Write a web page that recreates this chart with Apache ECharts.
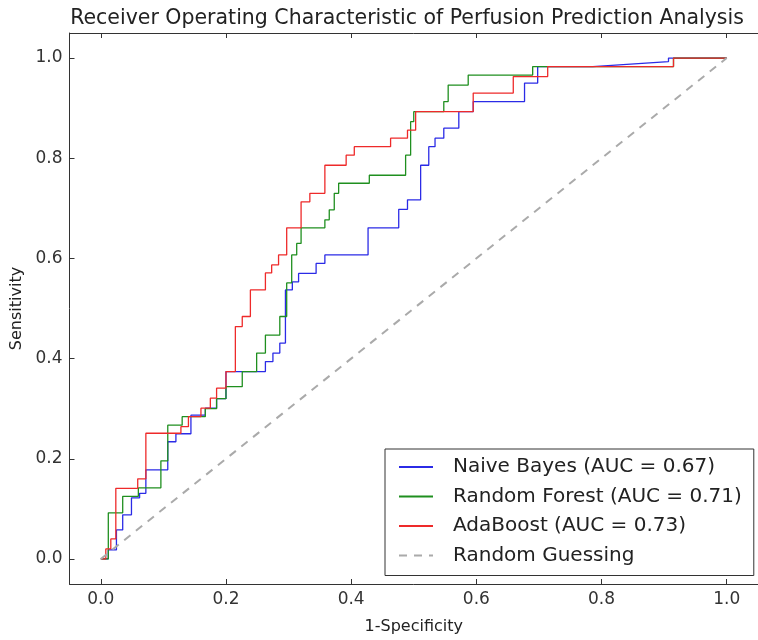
<!DOCTYPE html>
<html>
<head>
<meta charset="utf-8">
<script src="https://cdn.jsdelivr.net/npm/echarts@6/dist/echarts.min.js"></script>
<style>html,body{margin:0;padding:0;background:#fff}#chart{width:758px;height:640px}</style>
</head>
<body>
<div id="chart"></div>
<script>
// ---- data ----
const titleText = "Receiver Operating Characteristic of Perfusion Prediction Analysis";
const xAxisName = "1-Specificity";
const yAxisName = "Sensitivity";
const tickValues = [0.0, 0.2, 0.4, 0.6, 0.8, 1.0];
const seriesNames = ["Naive Bayes (AUC = 0.67)", "Random Forest (AUC = 0.71)", "AdaBoost (AUC = 0.73)", "Random Guessing"];

const nbFpr = [0,0.012,0.012,0.025,0.025,0.035,0.035,0.049,0.049,0.062,0.062,0.072,0.072,0.107,0.107,0.12,0.12,0.144,0.144,0.167,0.167,0.185,0.185,0.2,0.2,0.263,0.263,0.275,0.275,0.286,0.286,0.295,0.295,0.306,0.306,0.316,0.316,0.344,0.344,0.358,0.358,0.427,0.427,0.476,0.476,0.49,0.49,0.511,0.511,0.524,0.524,0.534,0.534,0.548,0.548,0.572,0.572,0.595,0.595,0.677,0.677,0.698,0.698,0.786,0.907,0.907,1.0];
const nbTpr = [0,0,0.018,0.018,0.058,0.058,0.088,0.088,0.122,0.122,0.131,0.131,0.178,0.178,0.234,0.234,0.25,0.25,0.287,0.287,0.301,0.301,0.32,0.32,0.374,0.374,0.394,0.394,0.411,0.411,0.431,0.431,0.537,0.537,0.553,0.553,0.57,0.57,0.59,0.59,0.607,0.607,0.661,0.661,0.698,0.698,0.717,0.717,0.786,0.786,0.823,0.823,0.84,0.84,0.86,0.86,0.893,0.893,0.913,0.913,0.95,0.95,0.983,0.983,0.993,1.0,1.0];

const rfFpr = [0,0.012,0.012,0.035,0.035,0.06,0.06,0.096,0.096,0.107,0.107,0.13,0.13,0.167,0.167,0.185,0.185,0.2,0.2,0.226,0.226,0.249,0.249,0.263,0.263,0.286,0.286,0.297,0.297,0.305,0.305,0.313,0.313,0.32,0.32,0.358,0.358,0.365,0.365,0.373,0.373,0.38,0.38,0.429,0.429,0.487,0.487,0.495,0.495,0.5,0.5,0.548,0.548,0.555,0.555,0.587,0.587,0.69,0.69,0.915,0.915,1.0];
const rfTpr = [0,0,0.092,0.092,0.125,0.125,0.142,0.142,0.196,0.196,0.267,0.267,0.284,0.284,0.30,0.30,0.32,0.32,0.344,0.344,0.374,0.374,0.411,0.411,0.447,0.447,0.484,0.484,0.551,0.551,0.607,0.607,0.63,0.63,0.661,0.661,0.677,0.677,0.697,0.697,0.73,0.73,0.75,0.75,0.766,0.766,0.806,0.806,0.873,0.873,0.893,0.893,0.913,0.913,0.946,0.946,0.966,0.966,0.983,0.983,1.0,1.0];

const abFpr = [0,0.008,0.008,0.016,0.016,0.024,0.024,0.059,0.059,0.072,0.072,0.128,0.128,0.14,0.14,0.16,0.16,0.175,0.175,0.185,0.185,0.2,0.2,0.215,0.215,0.226,0.226,0.239,0.239,0.263,0.263,0.273,0.273,0.284,0.284,0.297,0.297,0.32,0.32,0.334,0.334,0.358,0.358,0.392,0.392,0.405,0.405,0.463,0.463,0.49,0.49,0.503,0.503,0.595,0.595,0.659,0.659,0.714,0.714,0.915,0.915,1.0];
const abTpr = [0,0,0.02,0.02,0.04,0.04,0.141,0.141,0.16,0.16,0.251,0.251,0.264,0.264,0.284,0.284,0.301,0.301,0.321,0.321,0.341,0.341,0.374,0.374,0.464,0.464,0.484,0.484,0.537,0.537,0.571,0.571,0.587,0.587,0.607,0.607,0.661,0.661,0.713,0.713,0.73,0.73,0.786,0.786,0.806,0.806,0.823,0.823,0.84,0.84,0.856,0.856,0.893,0.893,0.93,0.93,0.963,0.963,0.983,0.983,1.0,1.0];

const randFpr = [0, 1];
const randTpr = [0, 1];

const colors = ["#2b2be6", "#1f8f1f", "#ee2a2a", "#aaaaaa"];

// ---- build ----
function zip(a, b) { return a.map((v, i) => [v, b[i]]); }
const chart = echarts.init(document.getElementById('chart'), null, { renderer: 'canvas' });
const fontFam = "DejaVu Sans";
const axisCommon = {
  type: 'value', min: -0.05, max: 1.05,
  splitLine: { show: false },
  axisLine: { show: true, onZero: false, lineStyle: { color: '#333', width: 1 } },
  axisTick: { show: true, inside: true, length: 5, customValues: tickValues, lineStyle: { color: '#333' } },
};
const option = {
  animation: false,
  backgroundColor: '#fff',
  title: {
    text: titleText, left: 402, top: 3, textAlign: 'center',
    textStyle: { fontFamily: fontFam, fontSize: 20.5, fontWeight: 'normal', color: '#222' }
  },
  grid: { left: 69.5, top: 33, width: 694, height: 551, containLabel: false },
  legend: {
    orient: 'vertical', left: 385, top: 449,
    padding: [8, 12, 10, 13],
    itemWidth: 34, itemHeight: 14, itemGap: 9.5,
    borderColor: '#333', borderWidth: 1,
    itemStyle: { opacity: 0 },
    textStyle: { fontFamily: fontFam, fontSize: 20, lineHeight: 20, color: '#222', padding: [0, 0, 0, 15] },
    data: seriesNames
  },
  xAxis: [
    Object.assign({}, axisCommon, {
      position: 'bottom', name: xAxisName, nameLocation: 'middle', nameGap: 35,
      nameTextStyle: { fontFamily: fontFam, fontSize: 16, color: '#222' },
      axisLabel: { customValues: tickValues, margin: 7, fontFamily: fontFam, fontSize: 17, color: '#333', formatter: v => v.toFixed(1) }
    }),
    Object.assign({}, axisCommon, { position: 'top', axisLabel: { show: false } })
  ],
  yAxis: [
    Object.assign({}, axisCommon, {
      position: 'left', name: yAxisName, nameLocation: 'middle', nameGap: 44,
      nameTextStyle: { fontFamily: fontFam, fontSize: 16, color: '#222' },
      axisLabel: { customValues: tickValues, margin: 7, fontFamily: fontFam, fontSize: 17, color: '#333', formatter: v => v.toFixed(1) }
    }),
    Object.assign({}, axisCommon, { position: 'right', axisTick: { show: false }, axisLabel: { show: false } })
  ],
  series: [
    { name: seriesNames[0], type: 'line', data: zip(nbFpr, nbTpr), showSymbol: false, symbol: 'none', color: colors[0], lineStyle: { width: 1.3, color: colors[0] } },
    { name: seriesNames[1], type: 'line', data: zip(rfFpr, rfTpr), showSymbol: false, symbol: 'none', color: colors[1], lineStyle: { width: 1.3, color: colors[1] } },
    { name: seriesNames[2], type: 'line', data: zip(abFpr, abTpr), showSymbol: false, symbol: 'none', color: colors[2], lineStyle: { width: 1.3, color: colors[2] } },
    { name: seriesNames[3], type: 'line', data: zip(randFpr, randTpr), showSymbol: false, symbol: 'none', color: colors[3], lineStyle: { width: 2, type: [8, 7], color: colors[3] } }
  ]
};
chart.setOption(option);
</script>
</body>
</html>
